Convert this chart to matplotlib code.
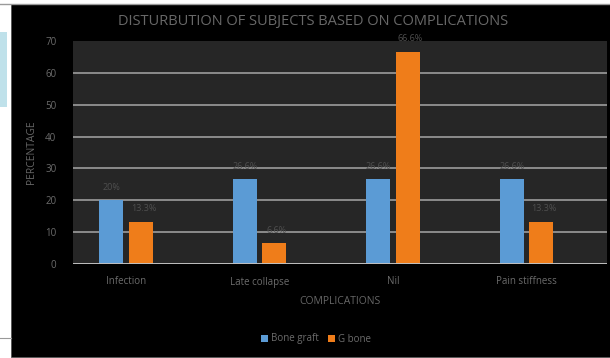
import matplotlib.pyplot as plt
import numpy as np
from matplotlib.patches import Rectangle
from matplotlib.lines import Line2D

plt.rcParams['font.family'] = ['Open Sans', 'DejaVu Sans']

categories = ['Infection', 'Late collapse', 'Nil', 'Pain stiffness']
bone_graft = [20, 26.6, 26.6, 26.6]
g_bone = [13.3, 6.6, 66.6, 13.3]
bone_graft_labels = ['20%', '26.6%', '26.6%', '26.6%']
g_bone_labels = ['13.3%', '6.6%', '66.6%', '13.3%']
yticks = [0, 10, 20, 30, 40, 50, 60, 70]

W, H = 610, 358
fig = plt.figure(figsize=(W / 100, H / 100), dpi=100, facecolor='white')

# screenshot frame: white strip on the left, black chart panel
fig.patches.append(Rectangle((11 / W, 1 / H), (W - 11) / W, (H - 5) / H,
                             transform=fig.transFigure, facecolor='black',
                             edgecolor='#555555', linewidth=0.6, zorder=-2))
fig.patches.append(Rectangle((0, 1 - 107 / H), 7 / W, 75 / H,
                             transform=fig.transFigure, facecolor='#bfe1ea',
                             edgecolor='none', zorder=-2))
fig.lines.append(Line2D([0, 11 / W], [1 - 338 / H] * 2, transform=fig.transFigure,
                        color='#999999', linewidth=0.8, zorder=-1))
fig.lines.append(Line2D([0, 1], [1 - 3.5 / H] * 2, transform=fig.transFigure,
                        color='#9a9a9a', linewidth=1.0, zorder=-1))

ax = fig.add_axes([73 / W, 1 - 264 / H, (607 - 73) / W, (264 - 41) / H])
ax.set_facecolor('#262626')

x = np.arange(len(categories))
w = 0.18
off = 0.11
b1 = ax.bar(x - off, bone_graft, w, color='#5b9bd5', label='Bone graft', zorder=3)
b2 = ax.bar(x + off, g_bone, w, color='#ef7d1a', label='G bone', zorder=3)

for rect, lab in zip(b1, bone_graft_labels):
    ax.annotate(lab, (rect.get_x() + rect.get_width() / 2, rect.get_height()),
                xytext=(0, 6), textcoords='offset points', ha='center', va='bottom',
                fontsize=6.5, color='#4f4f4f')
for rect, lab in zip(b2, g_bone_labels):
    ax.annotate(lab, (rect.get_x() + rect.get_width() / 2 + 0.02, rect.get_height()),
                xytext=(0, 6), textcoords='offset points', ha='center', va='bottom',
                fontsize=6.5, color='#4f4f4f')

ax.set_xlim(-0.397, 3.603)
ax.set_ylim(0, 70)
ax.set_yticks(yticks)
ax.set_xticks(x)
ax.set_xticklabels(categories)
for t in [10, 20, 30, 40, 50, 60]:
    ax.axhline(t, color='#9c9c9c', linewidth=1.2, zorder=1)
ax.axhline(0, color='#c0c0c0', linewidth=1.4, zorder=4)

for s in ax.spines.values():
    s.set_visible(False)
ax.tick_params(axis='both', length=0, colors='#6c6c6c', labelsize=7)
ax.tick_params(axis='y', pad=12)
ax.tick_params(axis='x', pad=9)

ax.set_ylabel('PERCENTAGE', color='#666666', fontsize=7.5, labelpad=6)
ax.set_xlabel('COMPLICATIONS', color='#666666', fontsize=7.5, labelpad=6)

fig.text(313 / W, 1 - 22 / H, 'DISTURBUTION OF SUBJECTS BASED ON COMPLICATIONS',
         ha='center', va='center', color='#686868', fontsize=10.5)

leg = fig.legend(handles=[b1, b2], loc='center', bbox_to_anchor=(316 / W, 1 - 339 / H),
                 ncol=2, frameon=False, fontsize=7, handlelength=0.7, handleheight=0.7,
                 handletextpad=0.3, columnspacing=1.0, labelcolor='#6c6c6c')

fig.savefig('out.png', dpi=100, facecolor=fig.get_facecolor())
